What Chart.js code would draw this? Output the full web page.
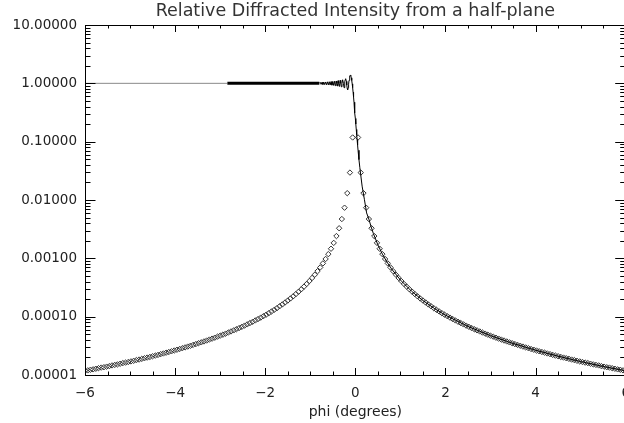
<!DOCTYPE html>
<html>
<head>
<meta charset="utf-8">
<script src="https://cdn.jsdelivr.net/npm/chart.js@4/dist/chart.umd.min.js"></script>
<style>
  html, body { margin: 0; padding: 0; background: #fff; overflow: hidden; }
  #wrap { width: 640px; height: 423px; }
</style>
</head>
<body>
<div id="wrap"><canvas id="chart"></canvas></div>
<script>
// Fresnel curve (solid line): angle in degrees and relative intensity
const linePhi = [
  -6, -2.84, -0.80,
  -0.78, -0.76, -0.74, -0.72, -0.70, -0.68, -0.66, -0.64, -0.62, -0.60,
  -0.58, -0.56, -0.54, -0.52, -0.50, -0.48, -0.464,
  -0.444, -0.435, -0.425, -0.415, -0.405, -0.395, -0.384, -0.373, -0.361, -0.349,
  -0.337, -0.324, -0.311, -0.297, -0.282, -0.265, -0.251, -0.24, -0.23, -0.215,
  -0.20, -0.19, -0.18, -0.171, -0.16, -0.15, -0.14, -0.13, -0.12, -0.111,
  -0.10, -0.09, -0.08, -0.07, -0.06, -0.05, -0.04, -0.03, -0.02, -0.01,
  0,
  0.01, 0.02, 0.03, 0.04, 0.05, 0.06, 0.08, 0.10, 0.12, 0.15,
  0.20, 0.25, 0.30, 0.35, 0.40, 0.50, 0.60, 0.70, 0.80, 1.0,
  1.25, 1.5, 1.75, 2.0, 2.5, 3.0, 3.5, 4.0, 4.5, 5.0, 5.5, 6.0
];
const lineIntensity = [
  1.0, 1.0, 1.0,
  1.04, 0.96, 1.045, 0.955, 1.05, 0.95, 1.055, 0.945, 1.06, 0.94,
  1.065, 0.935, 1.07, 0.93, 1.075, 0.92, 1.085,
  0.91, 1.0, 1.097, 1.0, 0.90, 1.0, 1.11, 1.0, 0.889, 1.0,
  1.126, 1.0, 0.872, 1.0, 1.151, 1.0, 0.843, 0.923, 1.078, 1.20,
  1.08, 0.932, 0.813, 0.776, 0.839, 0.968, 1.125, 1.258, 1.349, 1.37,
  1.33, 1.242, 1.119, 0.979, 0.844, 0.705, 0.582, 0.475, 0.386, 0.311,
  0.25,
  0.200, 0.162, 0.131, 0.1065, 0.0867, 0.0712, 0.0492, 0.0357, 0.0267, 0.0173,
  0.0103, 0.0060, 0.0047, 0.00347, 0.00266, 0.0017, 0.00118, 0.000867, 0.000664, 0.000425,
  0.000272, 0.000189, 0.000139, 0.000106, 6.8e-5, 4.72e-5, 3.47e-5, 2.66e-5, 2.10e-5, 1.70e-5, 1.40e-5, 1.18e-5
];
// fine fringes between these angles are drawn as a solid band
const bandFrom = -2.84;
const bandTo = -0.80;

// asymptotic values (diamonds), sampled every 0.06 deg away from the edge
const diamondStep = 0.06;
const diamondIntensity = [
  1.18e-1, 2.95e-2, 1.31e-2, 7.38e-3, 4.72e-3, 3.28e-3, 2.41e-3, 1.84e-3, 1.46e-3, 1.18e-3,
  9.75e-4, 8.19e-4, 6.98e-4, 6.02e-4, 5.24e-4, 4.61e-4, 4.08e-4, 3.64e-4, 3.27e-4, 2.95e-4,
  2.68e-4, 2.44e-4, 2.23e-4, 2.05e-4, 1.89e-4, 1.75e-4, 1.62e-4, 1.51e-4, 1.40e-4, 1.31e-4,
  1.23e-4, 1.15e-4, 1.08e-4, 1.02e-4, 9.63e-5, 9.10e-5, 8.62e-5, 8.17e-5, 7.76e-5, 7.38e-5,
  7.02e-5, 6.69e-5, 6.38e-5, 6.10e-5, 5.83e-5, 5.58e-5, 5.34e-5, 5.12e-5, 4.91e-5, 4.72e-5,
  4.54e-5, 4.36e-5, 4.20e-5, 4.05e-5, 3.90e-5, 3.76e-5, 3.63e-5, 3.51e-5, 3.39e-5, 3.28e-5,
  3.17e-5, 3.07e-5, 2.97e-5, 2.88e-5, 2.79e-5, 2.71e-5, 2.63e-5, 2.55e-5, 2.48e-5, 2.41e-5,
  2.34e-5, 2.28e-5, 2.21e-5, 2.15e-5, 2.10e-5, 2.04e-5, 1.99e-5, 1.94e-5, 1.89e-5, 1.84e-5,
  1.80e-5, 1.75e-5, 1.71e-5, 1.67e-5, 1.63e-5, 1.60e-5, 1.56e-5, 1.52e-5, 1.49e-5, 1.46e-5,
  1.42e-5, 1.39e-5, 1.36e-5, 1.34e-5, 1.31e-5, 1.28e-5, 1.25e-5, 1.23e-5, 1.20e-5, 1.18e-5
];

const yDecades = [1e-5, 1e-4, 1e-3, 1e-2, 1e-1, 1, 10];
const xMin = -6, xMax = 6, xMajor = 2, xMinor = 0.5;

const lineData = linePhi.map((p, i) => ({ x: p, y: lineIntensity[i] }));
const diamondData = [];
for (let i = diamondIntensity.length - 1; i >= 0; i--) {
  diamondData.push({ x: -(i + 1) * diamondStep, y: diamondIntensity[i] });
}
diamondIntensity.forEach((v, i) => diamondData.push({ x: (i + 1) * diamondStep, y: v }));

const FONT = "'DejaVu Sans', sans-serif";

// box around the plot with inward major/minor ticks on all four sides
const frameTicks = {
  id: 'frameTicks',
  afterDatasetsDraw(chart) {
    const { ctx, chartArea: a, scales: { x, y } } = chart;
    const snap = v => Math.round(v) + 0.5;
    ctx.save();
    ctx.strokeStyle = '#000';
    ctx.lineWidth = 1;
    ctx.beginPath();
    ctx.rect(snap(a.left), snap(a.top), Math.round(a.right - a.left), Math.round(a.bottom - a.top));
    for (let v = xMin; v <= xMax + 1e-9; v += xMinor) {
      const px = snap(x.getPixelForValue(v));
      const len = Math.abs(v % xMajor) < 1e-9 ? 7 : 3.5;
      ctx.moveTo(px, a.bottom); ctx.lineTo(px, a.bottom - len);
      ctx.moveTo(px, a.top); ctx.lineTo(px, a.top + len);
    }
    yDecades.forEach(d => {
      for (let m = 1; m <= 9; m++) {
        const v = d * m;
        if (v > yDecades[yDecades.length - 1] * 1.0001) break;
        const py = snap(y.getPixelForValue(v));
        const len = m === 1 ? 10.5 : 5.5;
        ctx.moveTo(a.left, py); ctx.lineTo(a.left + len, py);
        ctx.moveTo(a.right, py); ctx.lineTo(a.right - len, py);
      }
    });
    ctx.stroke();
    ctx.restore();
  }
};

new Chart(document.getElementById('chart'), {
  type: 'scatter',
  data: {
    datasets: [
      {
        data: lineData,
        showLine: true,
        borderColor: '#000',
        borderWidth: 1,
        pointRadius: 0,
        segment: {
          borderWidth: c => (c.p0.parsed.x >= bandFrom - 1e-9 && c.p1.parsed.x <= bandTo + 1e-9) ? 3 : 1,
          borderColor: c => c.p1.parsed.x <= bandFrom + 1e-9 ? '#8a8a8a' : '#000'
        }
      },
      {
        data: diamondData,
        showLine: false,
        pointStyle: 'rectRot',
        pointRadius: 2.7,
        borderColor: '#333',
        borderWidth: 1,
        backgroundColor: 'rgba(255,255,255,0)'
      }
    ]
  },
  options: {
    responsive: true,
    maintainAspectRatio: false,
    animation: false,
    layout: { padding: 0 },
    plugins: {
      legend: { display: false },
      tooltip: { enabled: false },
      title: {
        display: true,
        fullSize: false,
        text: 'Relative Diffracted Intensity from a half-plane',
        color: '#333',
        font: { family: FONT, size: 17.5, weight: 'normal' },
        padding: { top: 1, bottom: 3 }
      }
    },
    scales: {
      x: {
        type: 'linear',
        min: xMin,
        max: xMax,
        grid: { display: false, drawTicks: false },
        border: { display: false },
        ticks: {
          stepSize: xMajor,
          padding: 10,
          color: '#222',
          font: { family: FONT, size: 13.5 },
          maxRotation: 0,
          callback: v => v < 0 ? '\u2212' + Math.abs(v) : String(v)
        },
        title: {
          display: true,
          text: 'phi (degrees)',
          color: '#222',
          font: { family: FONT, size: 14 },
          padding: { top: 0, bottom: 2 }
        },
        afterFit: s => { s.height = 48; }
      },
      y: {
        type: 'logarithmic',
        min: 1e-5,
        max: 10,
        grid: { display: false, drawTicks: false },
        border: { display: false },
        afterBuildTicks: s => { s.ticks = yDecades.map(v => ({ value: v })); },
        ticks: {
          padding: 8,
          color: '#222',
          font: { family: FONT, size: 13.5 },
          callback: v => Number(v).toFixed(5)
        },
        afterFit: s => { s.width = 85; }
      }
    }
  },
  plugins: [frameTicks]
});
</script>
</body>
</html>
